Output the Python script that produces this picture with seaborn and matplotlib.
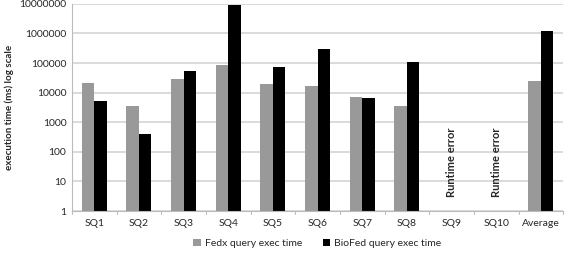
import numpy as np
import pandas as pd
import matplotlib
matplotlib.use("Agg")
import matplotlib.pyplot as plt
import seaborn as sns
from matplotlib.ticker import FixedLocator, NullLocator

queries = ["SQ1", "SQ2", "SQ3", "SQ4", "SQ5", "SQ6", "SQ7", "SQ8", "SQ9", "SQ10", "Average"]
fedx_ms = [22000, 3600, 29000, 88000, 20000, 17000, 7300, 3600, np.nan, np.nan, 25000]
biofed_ms = [5300, 400, 56000, 8900000, 75000, 290000, 6800, 112000, np.nan, np.nan, 1250000]
series_names = ["Fedx query exec time", "BioFed query exec time"]
error_queries = ["SQ9", "SQ10"]
y_ticks = [1, 10, 100, 1000, 10000, 100000, 1000000, 10000000]

df = pd.DataFrame({
    "query": queries * 2,
    "time": fedx_ms + biofed_ms,
    "series": [series_names[0]] * len(queries) + [series_names[1]] * len(queries),
})
df = df.dropna()

sns.set_style("white")
plt.rcParams["font.family"] = ["Lato", "DejaVu Sans"]

fig = plt.figure(figsize=(5.66, 2.59), dpi=100)
ax = fig.add_axes([0.127, 0.185, 0.868, 0.80])

sns.barplot(data=df, x="query", y="time", hue="series", order=queries,
            hue_order=series_names, palette=["#999999", "#000000"],
            width=0.56, errorbar=None, saturation=1, linewidth=0, ax=ax)

ax.set_yscale("log")
ax.set_ylim(1, 10000000)
ax.yaxis.set_major_locator(FixedLocator(y_ticks))
ax.yaxis.set_minor_locator(NullLocator())
ax.set_yticklabels([str(t) for t in y_ticks], fontsize=7.5)
ax.tick_params(axis="y", length=0, pad=4)
ax.tick_params(axis="x", length=0, labelsize=7.5, pad=6)
ax.set_xlim(-0.5, len(queries) - 0.5)

# gridlines and axis frame
ax.grid(axis="y", color="#d4d4d4", linewidth=1.2)
ax.set_axisbelow(True)
for side in ["top", "right"]:
    ax.spines[side].set_visible(False)
ax.spines["left"].set_color("#bbbbbb")
ax.spines["bottom"].set_color("#bbbbbb")

# category separator ticks under the x axis
for i in range(len(queries) + 1):
    ax.plot([i - 0.5, i - 0.5], [1, 0.8], color="#bbbbbb", linewidth=0.8,
            clip_on=False)

ax.set_xlabel("")
ax.set_ylabel("execution time (ms) log scale", fontsize=7, fontweight="bold", labelpad=4)

for q in error_queries:
    ax.text(queries.index(q), 45, "Runtime error", rotation=90, ha="center",
            va="center", fontsize=8, fontweight="bold")

ax.legend(loc="upper center", bbox_to_anchor=(0.5, -0.09), ncol=2, frameon=False,
          fontsize=7.5, handlelength=0.7, handleheight=0.7, columnspacing=2.0,
          handletextpad=0.4)

fig.savefig("out.png", dpi=100)
